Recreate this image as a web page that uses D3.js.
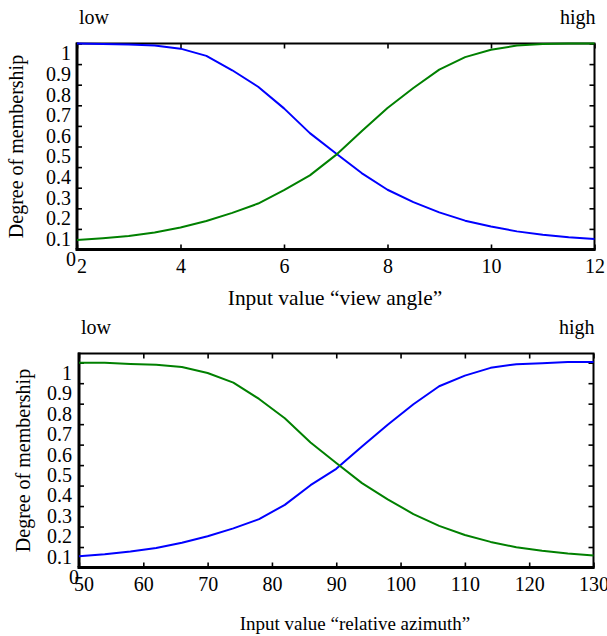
<!DOCTYPE html>
<html>
<head>
  <style type="text/css">
    body { margin: 0; background: #fff; }
    text { font-family: 'Liberation Serif', 'Times New Roman', serif; fill: #000; }
  </style>
</head>
<body>
  <svg width="607" height="636" id="chart"></svg>

  <script src="https://d3js.org/d3.v7.min.js"></script>
  <script>

// view angle chart (top)
const angleX     = [2, 2.5, 3, 3.5, 4, 4.5, 5, 5.5, 6, 6.5, 7, 7.5, 8, 8.5, 9, 9.5, 10, 10.5, 11, 11.5, 12]
const angleBlue  = [1.0, 0.998, 0.995, 0.99, 0.975, 0.94, 0.87, 0.79, 0.685, 0.565, 0.467, 0.371, 0.29, 0.23, 0.18, 0.14, 0.112, 0.088, 0.072, 0.06, 0.051]
const angleGreen = [0.046, 0.055, 0.065, 0.083, 0.107, 0.138, 0.178, 0.223, 0.288, 0.36, 0.458, 0.574, 0.687, 0.784, 0.873, 0.934, 0.97, 0.99, 0.998, 1.0, 1.0]
const angleTicks = [2, 4, 6, 8, 10, 12]

// relative azimuth chart (bottom)
const azimuthX     = [50, 54, 58, 62, 66, 70, 74, 78, 82, 86, 90, 94, 98, 102, 106, 110, 114, 118, 122, 126, 130]
const azimuthBlue  = [0.055, 0.065, 0.078, 0.095, 0.121, 0.153, 0.191, 0.236, 0.306, 0.402, 0.482, 0.591, 0.697, 0.797, 0.885, 0.937, 0.975, 0.993, 0.997, 1.003, 1.003]
const azimuthGreen = [1.0, 1.0, 0.994, 0.99, 0.979, 0.95, 0.903, 0.823, 0.729, 0.61, 0.51, 0.412, 0.333, 0.261, 0.203, 0.159, 0.125, 0.099, 0.082, 0.068, 0.059]
const azimuthTicks = [50, 60, 70, 80, 90, 100, 110, 120, 130]

const yTicks = [0, 0.1, 0.2, 0.3, 0.4, 0.5, 0.6, 0.7, 0.8, 0.9, 1]

function translate(x, y) { return 'translate(' + x + ',' + y + ')'; }

let svg = d3.select('#chart')

function drawChart(o) {
  let g = svg.append('g')
  let x = d3.scaleLinear().domain(d3.extent(o.xs)).range([o.left, o.right])
  let y = d3.scaleLinear().domain([0, o.yMax]).range([o.bottom, o.top])

  // ticks + labels
  let bottomAxis = g.append('g').attr('transform', translate(0, o.bottom))
    .call(d3.axisBottom(x).tickValues(o.xTicks).tickSizeInner(-5).tickSizeOuter(0).tickPadding(9.5))
  bottomAxis.selectAll('text').filter(d => d === o.xTicks[0]).attr('dx', 4.5)

  g.append('g').attr('transform', translate(0, o.top))
    .call(d3.axisTop(x).tickValues(o.xTicks).tickSizeInner(-5).tickSizeOuter(0).tickFormat(''))

  let leftAxis = g.append('g').attr('transform', translate(o.left, 0))
    .call(d3.axisLeft(y).tickValues(yTicks).tickSizeInner(-5).tickSizeOuter(0).tickPadding(o.yPad).tickFormat(d => String(d)))
  leftAxis.selectAll('text').attr('y', 10)
  leftAxis.selectAll('text').filter(d => d === 0).attr('dx', o.zeroDx)

  g.append('g').attr('transform', translate(o.right, 0))
    .call(d3.axisRight(y).tickValues(yTicks).tickSizeInner(-5).tickSizeOuter(0).tickFormat(''))

  g.selectAll('.domain').remove()
  g.selectAll('.tick line').attr('stroke', '#000').attr('stroke-width', 1.6)
  g.selectAll('.tick text').attr('font-size', 20).attr('fill', '#000')
    .style('font-family', "'Liberation Serif', 'Times New Roman', serif")

  // frame
  g.append('rect')
    .attr('x', o.left).attr('y', o.top)
    .attr('width', o.right - o.left).attr('height', o.bottom - o.top)
    .attr('fill', 'none').attr('stroke', '#000').attr('stroke-width', 2)
  g.append('line').attr('x1', o.left - 1.5).attr('x2', o.right + 1).attr('y1', o.bottom).attr('y2', o.bottom)
    .attr('stroke', '#000').attr('stroke-width', 3)
  g.append('line').attr('x1', o.left).attr('x2', o.left).attr('y1', o.top - 1).attr('y2', o.bottom)
    .attr('stroke', '#000').attr('stroke-width', 3)

  // curves
  let line = d3.line().x(d => x(d[0])).y(d => y(d[1]))
  o.series.forEach(s => {
    g.append('path')
      .datum(o.xs.map((v, i) => [v, s.values[i]]))
      .attr('fill', 'none')
      .attr('stroke', s.color)
      .attr('stroke-width', 2)
      .attr('stroke-linejoin', 'round')
      .attr('d', line)
  })

  // texts
  g.append('text').attr('x', o.left + 2).attr('y', o.top - 19.5).attr('font-size', 20).text('low')
  g.append('text').attr('x', o.right + 1).attr('y', o.top - 19.5).attr('font-size', 20)
    .attr('text-anchor', 'end').text('high')
  g.append('text').attr('x', o.xLabelX).attr('y', o.xLabelY).attr('font-size', o.xLabelSize)
    .attr('text-anchor', 'middle').text(o.xLabel)
  g.append('text').attr('transform', translate(o.yLabelX, (o.top + o.bottom) / 2) + ' rotate(-90)')
    .attr('font-size', 20).attr('text-anchor', 'middle').attr('dy', '0.32em')
    .text('Degree of membership')
}

drawChart({
  xs: angleX, xTicks: angleTicks, yMax: 1,
  left: 77, right: 594.5, top: 43.5, bottom: 249.5,
  yPad: 6, zeroDx: 5,
  series: [{ values: angleBlue, color: '#0000ff' }, { values: angleGreen, color: '#008000' }],
  xLabel: 'Input value \u201cview angle\u201d', xLabelX: 335, xLabelY: 305, xLabelSize: 21.4, yLabelX: 17
})

drawChart({
  xs: azimuthX, xTicks: azimuthTicks, yMax: 1.045,
  left: 79, right: 593.5, top: 353.5, bottom: 567.5,
  yPad: 7, zeroDx: 7,
  series: [{ values: azimuthBlue, color: '#0000ff' }, { values: azimuthGreen, color: '#008000' }],
  xLabel: 'Input value \u201crelative azimuth\u201d', xLabelX: 355, xLabelY: 630, xLabelSize: 19, yLabelX: 24
})

  </script>
</body>
</html>
